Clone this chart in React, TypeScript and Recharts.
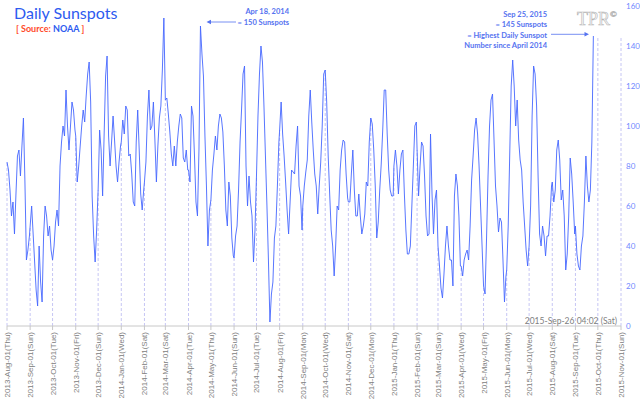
import React from 'react';
import { ComposedChart, Line, XAxis, YAxis, ReferenceLine } from 'recharts';

// month ticks on the x axis (first day of each month)
const monthLabels = [
  '2013-Aug-01(Thu)', '2013-Sep-01(Sun)', '2013-Oct-01(Tue)', '2013-Nov-01(Fri)', '2013-Dec-01(Sun)',
  '2014-Jan-01(Wed)', '2014-Feb-01(Sat)', '2014-Mar-01(Sat)', '2014-Apr-01(Tue)', '2014-May-01(Thu)',
  '2014-Jun-01(Sun)', '2014-Jul-01(Tue)', '2014-Aug-01(Fri)', '2014-Sep-01(Mon)', '2014-Oct-01(Wed)',
  '2014-Nov-01(Sat)', '2014-Dec-01(Mon)', '2015-Jan-01(Thu)', '2015-Feb-01(Sun)', '2015-Mar-01(Sun)',
  '2015-Apr-01(Wed)', '2015-May-01(Fri)', '2015-Jun-01(Mon)', '2015-Jul-01(Wed)', '2015-Aug-01(Sat)',
  '2015-Sep-01(Tue)', '2015-Oct-01(Thu)', '2015-Nov-01(Sun)',
];

// daily sunspot number, one value every 2 days from the 1st of each month
const aug13 = [82, 78, 68, 55, 62, 46, 66, 85, 88, 75, 90, 104, 72, 33, 38, 45];
const sep13 = [50, 60, 46, 32, 18, 10, 40, 22, 12, 45, 60, 55, 45, 50, 38];
const oct13 = [33, 40, 52, 58, 50, 80, 92, 100, 95, 118, 100, 88, 100, 112, 108, 98];
const nov13 = [95, 72, 80, 90, 100, 108, 102, 115, 126, 132, 112, 65, 45, 32, 48];
const dec13 = [68, 98, 88, 65, 95, 125, 135, 95, 80, 92, 105, 93, 80, 72, 82, 90];
const jan14 = [92, 103, 96, 110, 108, 85, 86, 76, 62, 60, 92, 108, 88, 66, 58, 68];
const feb14 = [72, 82, 105, 118, 98, 100, 112, 93, 72, 90, 104, 110, 128, 154];
const mar14 = [113, 114, 106, 97, 86, 80, 90, 80, 92, 100, 106, 104, 84, 82, 88, 78];
const apr14 = [78, 72, 110, 105, 85, 62, 55, 88, 150, 136, 125, 95, 70, 40, 58];
const may14 = [63, 78, 86, 95, 88, 100, 106, 104, 97, 80, 58, 50, 72, 65, 44, 35];
const jun14 = [34, 45, 50, 68, 92, 108, 126, 130, 80, 60, 75, 62, 55, 32, 48];
const jul14 = [75, 105, 126, 140, 132, 110, 85, 60, 33, 2, 16, 22, 44, 50, 70, 92];
const aug14 = [98, 112, 96, 85, 72, 58, 46, 62, 78, 77, 76, 90, 100, 70, 65, 48];
const sep14 = [60, 70, 77, 83, 105, 118, 102, 88, 76, 70, 56, 70, 82, 100, 126];
const oct14 = [128, 112, 85, 66, 48, 40, 25, 40, 60, 58, 78, 88, 93, 92, 76, 64];
const nov14 = [62, 62, 76, 88, 68, 55, 55, 66, 55, 46, 50, 56, 72, 70, 92];
const dec14 = [104, 101, 88, 70, 44, 52, 68, 81, 98, 118, 118, 96, 78, 68, 65, 65];
const jan15 = [80, 88, 80, 66, 78, 86, 88, 66, 48, 36, 36, 40, 60, 80, 100, 102];
const feb15 = [88, 65, 80, 92, 90, 75, 55, 45, 46, 96, 66, 46, 63, 68];
const mar15 = [40, 30, 19, 14, 26, 40, 50, 40, 33, 33, 20, 65, 76, 70, 55, 30];
const apr15 = [30, 25, 33, 36, 38, 33, 50, 73, 85, 98, 104, 96, 80, 60, 40];
const may15 = [20, 16, 44, 75, 100, 113, 116, 93, 70, 60, 47, 54, 52, 33, 12, 25];
const jun15 = [28, 50, 85, 120, 133, 120, 100, 113, 93, 83, 78, 62, 50, 38, 30];
const jul15 = [40, 60, 105, 130, 126, 110, 75, 46, 40, 50, 45, 35, 45, 45, 55, 70];
const aug15 = [72, 62, 68, 88, 93, 83, 63, 68, 55, 28, 36, 55, 84, 76, 62, 46];
const sep15 = [50, 36, 30, 28, 40, 45, 62, 85, 70, 62, 68, 92, 145];

const monthValues = [
  aug13, sep13, oct13, nov13, dec13, jan14, feb14, mar14, apr14, may14, jun14, jul14, aug14,
  sep14, oct14, nov14, dec14, jan15, feb15, mar15, apr15, may15, jun15, jul15, aug15, sep15,
];

const yTicks = [0, 20, 40, 60, 80, 100, 120, 140, 160];

const DAY = 86400000;
const start = Date.UTC(2013, 7, 1);
const monthTicks = monthLabels.map((_, i) => (Date.UTC(2013, 7 + i, 1) - start) / DAY);

const rows: { d: number; v: number | null }[] = [];
monthValues.forEach((vals, i) => {
  vals.forEach((v, k) => rows.push({ d: monthTicks[i] + 2 * k, v }));
});
const lastValue = sep15[sep15.length - 1];

// dashed drop lines from the value on the 1st of each month (last value after data ends)
const drops = monthTicks.map((d, i) => ({
  d,
  v: i < monthValues.length ? monthValues[i][0] : lastValue,
}));

const BLUE = '#2d5bf0';
const NOTE = '#5673f0';

const MonthTick = (props: any) => {
  const { x, y, payload } = props;
  const label = monthLabels[monthTicks.indexOf(payload.value)];
  return (
    <text
      x={x}
      y={y}
      dy={3}
      transform={`rotate(-90 ${x} ${y})`}
      textAnchor="end"
      fontSize={8}
      fontFamily="Liberation Sans"
      fill="#808080"
    >
      {label}
    </text>
  );
};

export default function App() {
  return (
    <div style={{ position: 'fixed', left: 0, top: 0, width: 640, height: 399, background: '#fff', fontFamily: 'Lato' }}>
      <ComposedChart width={640} height={399} data={rows} margin={{ top: 6, right: 0, bottom: 3, left: 7 }}>
        <XAxis
          dataKey="d"
          type="number"
          domain={[0, monthTicks[monthTicks.length - 1]]}
          ticks={monthTicks}
          interval={0}
          height={70}
          tick={<MonthTick />}
          tickSize={4}
          tickMargin={2}
          stroke="#c8c8c8"
          tickLine={{ stroke: '#c8c8c8' }}
          axisLine={{ stroke: '#c8c8c8' }}
        />
        <YAxis
          orientation="right"
          domain={[0, 160]}
          ticks={yTicks}
          width={19}
          axisLine={false}
          tickLine={false}
          tickSize={3}
          tickMargin={2}
          tick={{ fill: '#7088ff', fontSize: 8 }}
        />
        {drops.map((p) => (
          <ReferenceLine
            key={p.d}
            segment={[{ x: p.d, y: 0 }, { x: p.d, y: p.v }]}
            stroke="#c6c6f4"
            strokeDasharray="3 2"
            strokeWidth={1}
          />
        ))}
        <Line
          dataKey="v"
          type="linear"
          stroke="#4566ff"
          strokeWidth={0.9}
          dot={false}
          connectNulls={false}
          isAnimationActive={false}
        />
      </ComposedChart>
      <svg width={640} height={399} style={{ position: 'absolute', left: 0, top: 0, pointerEvents: 'none' }}>
        <text x={14} y={19} fontSize={16} fill={BLUE}>Daily Sunspots</text>
        <text x={16} y={31.5} fontSize={9} fontWeight={700}>
          <tspan fill="#ff4a2a">[ Source: </tspan>
          <tspan fill={BLUE}>NOAA</tspan>
          <tspan fill="#ff4a2a"> ]</tspan>
        </text>

        <g fontSize={7.5} fontWeight={700} fill={NOTE} textAnchor="end">
          <text x={289} y={14}>Apr 18, 2014</text>
          <text x={289} y={24.5}>= 150 Sunspots</text>
          <text x={547} y={16.5}>Sep 25, 2015</text>
          <text x={547} y={27}>= 145 Sunspots</text>
          <text x={547} y={37.5}>= Highest Daily Sunspot</text>
          <text x={547} y={48}>Number since April 2014</text>
        </g>
        <line x1={236} y1={22} x2={209} y2={22} stroke={NOTE} strokeWidth={0.8} />
        <polygon points="206.5,22 211,19.8 211,24.2" fill={NOTE} />
        <line x1={551} y1={34.3} x2={586} y2={34.3} stroke={NOTE} strokeWidth={0.8} />
        <polygon points="589,34.3 584.5,32.1 584.5,36.5" fill={NOTE} />

        <text x={577} y={25} fontFamily="Liberation Serif" fontSize={18} fill="#fbfbfb" stroke="#b5b5b5" strokeWidth={0.6}>
          TPR<tspan fontSize={9} dy={-8}>©</tspan>
        </text>

        <text x={617} y={324} textAnchor="end" fontSize={8.5} fill="#808080">2015-Sep-26 04:02 (Sat)</text>
      </svg>
    </div>
  );
}
